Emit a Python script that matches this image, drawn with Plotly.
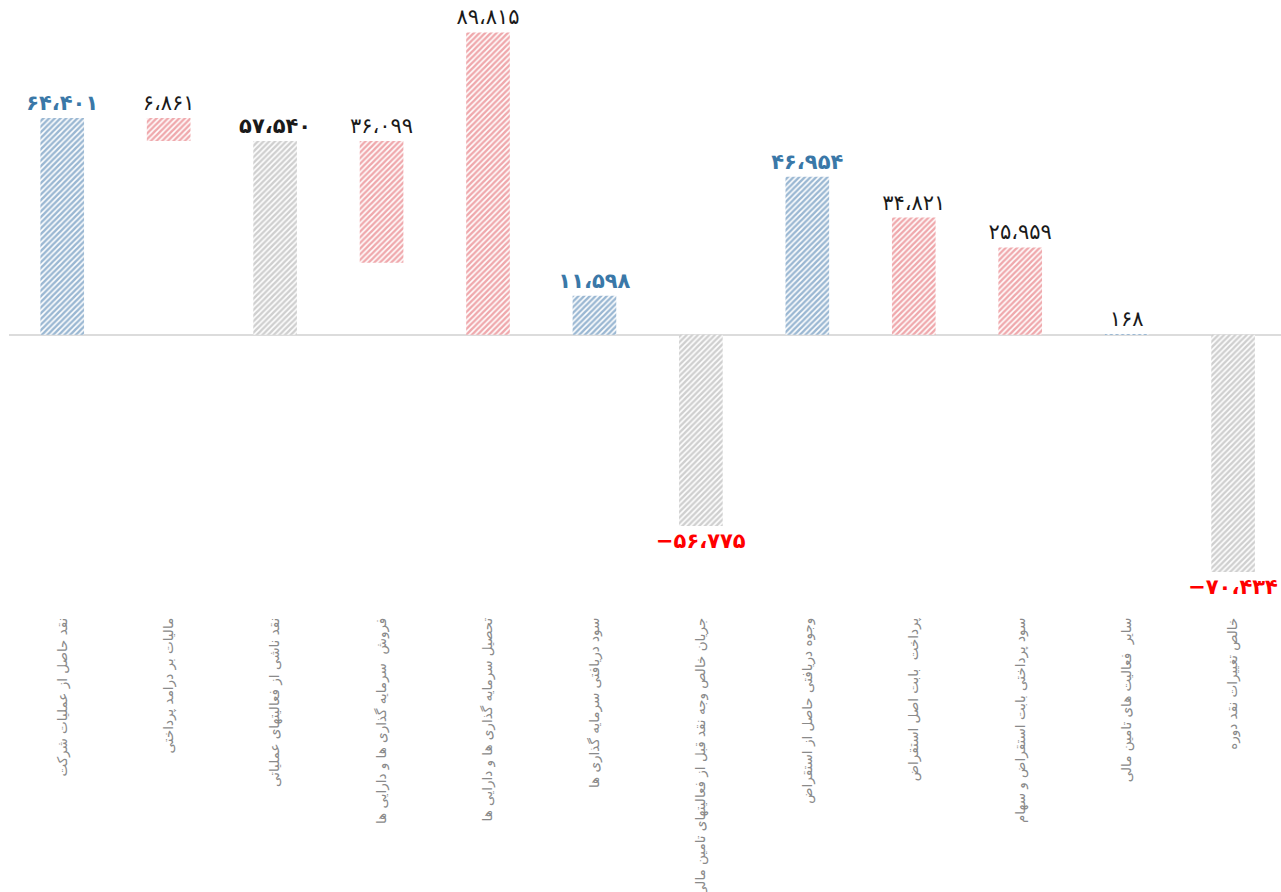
import plotly.graph_objects as go

# Cash-flow items (Persian), amounts and item kind
categories = [
    "نقد حاصل از عملیات شرکت",
    "مالیات بر درامد پرداختی",
    "نقد ناشی از فعالیتهای عملیاتی",
    "فروش  سرمایه گذاری ها و دارایی ها",
    "تحصیل سرمایه گذاری ها و دارایی ها",
    "سود دریافتی سرمایه گذاری ها",
    "جریان خالص وجه نقد قبل از فعالیتهای تامین مالی",
    "وجوه دریافتی حاصل از استقراض",
    "پرداخت  بابت اصل استقراض",
    "سود پرداختی بابت استقراض و سهام",
    "سایر  فعالیت های تامین مالی",
    "خالص تغییرات نقد دوره",
]
values = [64401, 6861, 57540, 36099, 89815, 11598, -56775, 46954, 34821, 25959, 168, -70434]
kinds = ["in", "out", "total", "out", "out", "in", "total", "in", "out", "out", "in", "total"]

# bars that hang down from the top of an earlier bar: {item index: parent index}
hanging = {1: 0, 3: 2}

PERSIAN_DIGITS = str.maketrans("0123456789", "۰۱۲۳۴۵۶۷۸۹")


def fa_number(v):
    s = f"{abs(v):,}".replace(",", "،").translate(PERSIAN_DIGITS)
    return ("−" if v < 0 else "") + s


bases, heights = [], []
for i, v in enumerate(values):
    if i in hanging:
        top = values[hanging[i]]
        bases.append(top - v)
        heights.append(v)
    else:
        bases.append(0)
        heights.append(v)

fg = {"in": "#3670a6", "out": "#e0525a", "total": "#a0a0a0"}

labels, label_colors = [], []
for v, k in zip(values, kinds):
    txt = fa_number(v)
    if v < 0:
        labels.append(f"<b>{txt}</b>")
        label_colors.append("#ff0000")
    elif k == "in" and v >= 1000:
        labels.append(f"<b>{txt}</b>")
        label_colors.append("#3a78a8")
    elif k == "total":
        labels.append(f"<b>{txt}</b>")
        label_colors.append("#1a1a1a")
    else:
        labels.append(txt)
        label_colors.append("#1a1a1a")

fig = go.Figure(
    go.Bar(
        x=list(range(len(categories))),
        y=heights,
        base=bases,
        width=0.41,
        marker=dict(
            color="white",
            line=dict(width=0),
            pattern=dict(
                shape="/",
                fgcolor=[fg[k] for k in kinds],
                bgcolor="white",
                size=4,
                solidity=0.62,
            ),
        ),
        text=labels,
        textposition="outside",
        constraintext="none",
        textfont=dict(family="DejaVu Sans", size=21, color=label_colors),
        cliponaxis=False,
        showlegend=False,
    )
)

fig.update_layout(
    width=1281,
    height=892,
    margin=dict(l=9, r=0, t=0, b=287),
    paper_bgcolor="white",
    plot_bgcolor="white",
    xaxis=dict(
        tickmode="array",
        tickvals=list(range(len(categories))),
        ticktext=categories,
        tickangle=-90,
        range=[-0.5, 11.45],
        showgrid=False,
        zeroline=False,
        showline=False,
        ticks="",
        automargin=False,
        ticklabelstandoff=9,
        tickfont=dict(family="DejaVu Sans", size=13.5, color="#8a8a8a"),
    ),
    yaxis=dict(
        range=[-78658 * 1.02, 99436],
        showgrid=False,
        zeroline=True,
        zerolinecolor="#dcdcdc",
        zerolinewidth=1.5,
        showticklabels=False,
        ticks="",
        automargin=False,
    ),
)

fig.write_html("out.html")
